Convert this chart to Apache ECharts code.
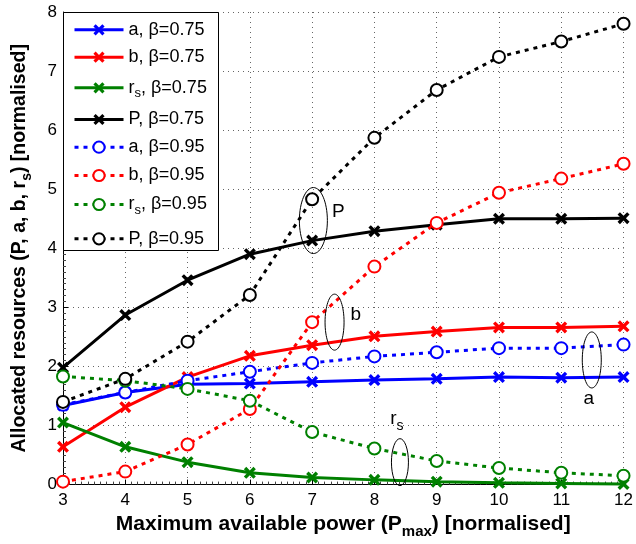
<!DOCTYPE html>
<html>
<head>
<meta charset="utf-8">
<script src="https://cdn.jsdelivr.net/npm/echarts@6/dist/echarts.min.js"></script>
<style>
  html, body { margin: 0; padding: 0; background: #fff; }
  #chart { width: 636px; height: 544px; }
</style>
</head>
<body>
<div id="chart"></div>
<script>
// Maximum available power (normalised)
const pmax = [3, 4, 5, 6, 7, 8, 9, 10, 11, 12];

// beta = 0.75
const a75  = [1.34, 1.56, 1.70, 1.71, 1.74, 1.77, 1.79, 1.82, 1.81, 1.82];
const b75  = [0.64, 1.31, 1.82, 2.18, 2.36, 2.51, 2.59, 2.66, 2.66, 2.68];
const rs75 = [1.05, 0.64, 0.38, 0.20, 0.12, 0.08, 0.05, 0.03, 0.02, 0.01];
const P75  = [1.98, 2.87, 3.46, 3.90, 4.13, 4.29, 4.40, 4.50, 4.50, 4.51];

// beta = 0.95
const a95  = [1.35, 1.56, 1.76, 1.91, 2.06, 2.17, 2.24, 2.31, 2.31, 2.37];
const b95  = [0.05, 0.22, 0.68, 1.28, 2.75, 3.69, 4.43, 4.94, 5.18, 5.43];
const rs95 = [1.83, 1.76, 1.62, 1.42, 0.89, 0.61, 0.40, 0.28, 0.20, 0.15];
const P95  = [1.40, 1.79, 2.42, 3.21, 4.83, 5.87, 6.68, 7.24, 7.50, 7.80];

// Axis ticks
const xTicks = { min: 3, max: 12, step: 1 };
const yTicks = { min: 0, max: 8, step: 1 };

// Series names (legend labels, rich text for the subscript)
const seriesNames = [
  'a, β=0.75', 'b, β=0.75', '{t|r}{sub|s}{t|, β=0.75}', 'P, β=0.75',
  'a, β=0.95', 'b, β=0.95', '{t|r}{sub|s}{t|, β=0.95}', 'P, β=0.95'
];

// Curve labels with their ellipses, in data coordinates
const callouts = [
  { label: 'P', ex: 7.02, ey: 4.47, tx: 7.42, ty: 4.62 },
  { label: 'b', ex: 7.36, ey: 2.75, tx: 7.70, ty: 2.88 },
  { label: 'a', ex: 11.49, ey: 2.11, tx: 11.44, ty: 1.45 },
  { label: 'rs', ex: 8.41, ey: 0.38, tx: 8.36, ty: 1.12 }
];

const FONT = 'Liberation Sans, Arial, Helvetica, sans-serif';
const crossPath = 'path://M2,0 L5,3 L8,0 L10,2 L7,5 L10,8 L8,10 L5,7 L2,10 L0,8 L3,5 L0,2 Z';

function makeSeries(name, values, color, dotted) {
  return {
    name: name,
    type: 'line',
    data: pmax.map((x, i) => [x, values[i]]),
    symbol: dotted ? 'emptyCircle' : crossPath,
    symbolSize: dotted ? 12 : 12,
    showAllSymbol: true,
    clip: false,
    lineStyle: { color: color, width: 3, type: dotted ? [4, 5] : 'solid' },
    itemStyle: dotted
      ? { color: color, borderColor: color, borderWidth: 2.8 }
      : { color: color, borderWidth: 0 },
    emphasis: { disabled: true },
    animation: false
  };
}

const colors = ['#0000ff', '#ff0000', '#008000', '#000000'];
const valueSets75 = [a75, b75, rs75, P75];
const valueSets95 = [a95, b95, rs95, P95];
const series = [];
valueSets75.forEach((v, i) => series.push(makeSeries(seriesNames[i], v, colors[i], false)));
valueSets95.forEach((v, i) => series.push(makeSeries(seriesNames[i + 4], v, colors[i], true)));

// Legend: one row per entry inside a shared framed box
const legendBox = { x: 63.5, y: 12.5, w: 155, h: 238 };
const legendRowY = [29.3, 56.7, 87.3, 119, 146.7, 175, 204, 238.3];
const legendText = {
  fontFamily: FONT, fontSize: 18, color: '#000', lineHeight: 18,
  rich: {
    t: { fontFamily: FONT, fontSize: 18, color: '#000', lineHeight: 18 },
    sub: { fontFamily: FONT, fontSize: 13, color: '#000', padding: [12, 0, 0, 0] }
  }
};
const legends = seriesNames.map((name, i) => ({
  orient: 'vertical',
  left: 73, top: legendRowY[i] - 8.5,
  padding: 0,
  itemWidth: 49, itemHeight: 14,
  selectedMode: false,
  lineStyle: { width: 3 },
  textStyle: legendText,
  z: 10,
  data: [name]
}));

const chart = echarts.init(document.getElementById('chart'), null, { renderer: 'canvas' });

const axisNameRich = (size) => ({
  t: { fontFamily: FONT, fontSize: size, fontWeight: 'bold', color: '#000', lineHeight: size + 2 },
  sub: { fontFamily: FONT, fontSize: Math.round(size * 0.72), fontWeight: 'bold', color: '#000', padding: [Math.round(size * 0.7), 0, 0, 0] }
});

chart.setOption({
  animation: false,
  backgroundColor: '#fff',
  textStyle: { fontFamily: FONT },
  grid: { left: 63, right: 9, top: 12, bottom: 58 },
  xAxis: {
    type: 'value',
    min: xTicks.min, max: xTicks.max, interval: xTicks.step,
    name: '{t|Maximum available power (P}{sub|max}{t|) [normalised]}',
    nameLocation: 'middle',
    nameGap: 24,
    nameTextStyle: { rich: axisNameRich(21) },
    axisLine: { show: true, onZero: false, lineStyle: { color: '#000', width: 1 } },
    axisTick: { show: true, inside: true, length: 5, lineStyle: { color: '#000' } },
    minorTick: { show: true, splitNumber: 10, length: 3, lineStyle: { color: '#444' } },
    axisLabel: { color: '#000', fontSize: 17, fontFamily: FONT, margin: 7 },
    splitLine: { show: true, lineStyle: { color: '#666', width: 1, type: [1, 4] } }
  },
  yAxis: {
    type: 'value',
    min: yTicks.min, max: yTicks.max, interval: yTicks.step,
    name: '{t|Allocated resources (P, a, b, r}{sub|s}{t|) [normalised]}',
    nameLocation: 'middle',
    nameGap: 29,
    nameTextStyle: { rich: axisNameRich(19.5) },
    axisLine: { show: true, onZero: false, lineStyle: { color: '#000', width: 1 } },
    axisTick: { show: true, inside: true, length: 5, lineStyle: { color: '#000' } },
    minorTick: { show: true, splitNumber: 10, length: 3, lineStyle: { color: '#444' } },
    axisLabel: { color: '#000', fontSize: 17, fontFamily: FONT, margin: 6 },
    splitLine: { show: true, lineStyle: { color: '#666', width: 1, type: [1, 4] } }
  },
  legend: legends,
  series: series
});

// Legend frame, ellipses and curve labels placed through the grid's coordinate system
function drawOverlays() {
  const g = [{
    type: 'rect', z: 5, silent: true,
    shape: { x: legendBox.x, y: legendBox.y, width: legendBox.w, height: legendBox.h },
    style: { fill: '#fff', stroke: '#000', lineWidth: 1 }
  }];
  callouts.forEach(c => {
    const e = chart.convertToPixel({ gridIndex: 0 }, [c.ex, c.ey]);
    const t = chart.convertToPixel({ gridIndex: 0 }, [c.tx, c.ty]);
    let rx = 9.5, ry = 28;
    if (c.label === 'P') { rx = 14; ry = 33; }
    if (c.label === 'rs') { rx = 8.5; ry = 23.5; }
    g.push({
      type: 'ellipse', z: 4, silent: true,
      shape: { cx: e[0], cy: e[1], rx: rx, ry: ry },
      style: { fill: null, stroke: '#000', lineWidth: 1 }
    });
    const text = c.label === 'rs' ? '{t|r}{sub|s}' : '{t|' + c.label + '}';
    g.push({
      type: 'text', z: 4, silent: true,
      x: t[0], y: t[1],
      style: {
        text: text,
        align: 'center', verticalAlign: 'middle',
        rich: {
          t: { fontFamily: FONT, fontSize: 19, fill: '#000' },
          sub: { fontFamily: FONT, fontSize: 14, fill: '#000', padding: [16, 0, 0, 0] }
        }
      }
    });
  });
  chart.setOption({ graphic: g });
}
drawOverlays();
</script>
</body>
</html>
